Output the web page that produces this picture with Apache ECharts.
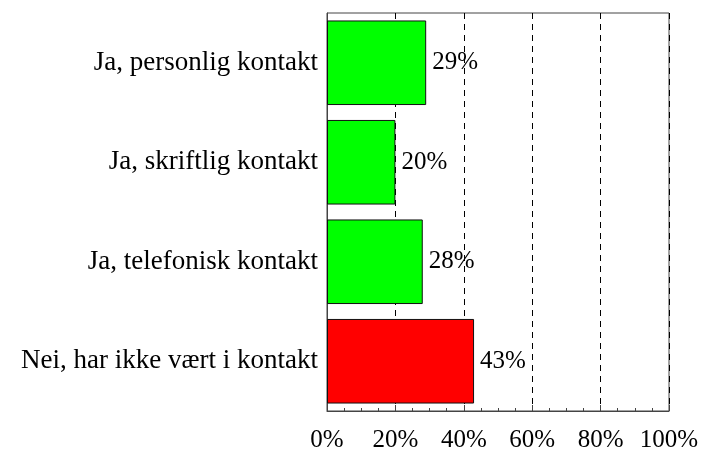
<!DOCTYPE html>
<html lang="no">
<head>
    <meta charset="UTF-8">
    <title>Kontakt</title>
    <script src="https://cdn.jsdelivr.net/npm/echarts@6/dist/echarts.min.js"></script>
    <style>
        html, body {
            margin: 0;
            padding: 0;
            background: #fff;
        }
        #chart {
            width: 702px;
            height: 449px;
        }
    </style>
</head>
<body>
<div id="chart"></div>
<script>
    let categories = ['Ja, personlig kontakt', 'Ja, skriftlig kontakt', 'Ja, telefonisk kontakt', 'Nei, har ikke vært i kontakt'];
    let values = [29, 20, 28, 43];
    let barColors = ['#00ff00', '#00ff00', '#00ff00', '#ff0000'];

    let font = 'Liberation Serif, Times New Roman, serif';
    let axisColor = '#444';

    let myChart = echarts.init(document.getElementById('chart'));
    let option = {
        backgroundColor: '#fff',
        animation: false,
        grid: {
            left: 327,
            right: 33,
            top: 13,
            bottom: 38,
            outerBoundsMode: 'none',
            show: true,
            borderColor: axisColor,
            borderWidth: 1,
            backgroundColor: 'transparent'
        },
        xAxis: {
            type: 'value',
            min: 0,
            max: 100,
            interval: 20,
            axisLine: {show: true, lineStyle: {color: axisColor}},
            axisTick: {show: true, inside: true, length: 6, lineStyle: {color: axisColor}},
            minorTick: {show: true, splitNumber: 4, length: 3, lineStyle: {color: axisColor}},
            splitLine: {show: true, lineStyle: {color: '#000', type: [6, 5], width: 1}},
            axisLabel: {
                formatter: '{value}%',
                color: '#000',
                fontFamily: font,
                fontSize: 25,
                margin: 17
            }
        },
        yAxis: {
            type: 'category',
            inverse: true,
            data: categories,
            axisLine: {show: true, lineStyle: {color: axisColor}},
            axisTick: {show: true, inside: true, alignWithLabel: true, length: 5, lineStyle: {color: axisColor}},
            axisLabel: {
                color: '#000',
                fontFamily: font,
                fontSize: 27,
                margin: 9
            }
        },
        series: [{
            type: 'bar',
            // own layer so the dashed grid stays behind the bars
            zlevel: 1,
            barCategoryGap: '15%',
            data: values.map(function (v, i) {
                return {value: v, itemStyle: {color: barColors[i]}};
            }),
            itemStyle: {borderColor: '#111', borderWidth: 1},
            label: {
                show: true,
                position: 'right',
                distance: 6,
                formatter: '{c}%',
                color: '#000',
                fontFamily: font,
                fontSize: 25
            }
        }]
    };
    myChart.setOption(option);
</script>
</body>
</html>
